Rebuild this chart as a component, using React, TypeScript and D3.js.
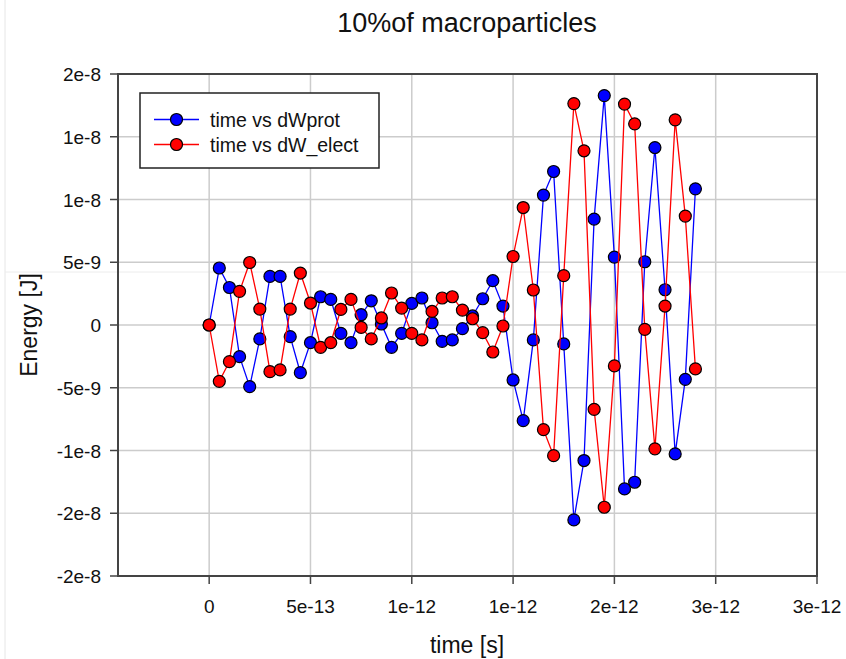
import React from "react";
import * as d3 from "d3";

// time in picoseconds
const timePs = [
  0, 0.05, 0.1, 0.15, 0.2, 0.25, 0.3, 0.35, 0.4, 0.45,
  0.5, 0.55, 0.6, 0.65, 0.7, 0.75, 0.8, 0.85, 0.9, 0.95,
  1.0, 1.05, 1.1, 1.15, 1.2, 1.25, 1.3, 1.35, 1.4, 1.45,
  1.5, 1.55, 1.6, 1.65, 1.7, 1.75, 1.8, 1.85, 1.9, 1.95,
  2.0, 2.05, 2.1, 2.15, 2.2, 2.25, 2.3, 2.35, 2.4,
];

// energies in nJ
const dWprot = [
  0, 4.54, 2.99, -2.52, -4.91, -1.11, 3.87, 3.87, -0.93, -3.8,
  -1.41, 2.25, 2.04, -0.67, -1.41, 0.82, 1.93, 0.08, -1.78, -0.67,
  1.72, 2.15, 0.18, -1.3, -1.19, -0.29, 0.72, 2.09, 3.53, 1.51,
  -4.38, -7.62, -1.19, 10.35, 12.23, -1.51, -15.53, -10.8, 8.44, 18.28,
  5.41, -13.06, -12.53, 5.04, 14.14, 2.81, -10.27, -4.33, 10.85,
];

const dWelect = [
  0, -4.49, -2.92, 2.68, 4.98, 1.27, -3.72, -3.58, 1.27, 4.14,
  1.75, -1.78, -1.41, 1.24, 2.04, -0.19, -1.11, 0.56, 2.55, 1.35,
  -0.67, -1.19, 1.08, 2.15, 2.25, 1.19, 0.5, -0.61, -2.15, -0.08,
  5.46, 9.36, 2.79, -8.34, -10.41, 3.93, 17.64, 13.88, -6.72, -14.52,
  -3.26, 17.6, 16.03, -0.35, -9.87, 1.51, 16.35, 8.68, -3.5,
];

const xTicks = [0, 5e-13, 1e-12, 1.5e-12, 2e-12, 2.5e-12, 3e-12];
const xTickLabels = ["0", "5e-13", "1e-12", "1e-12", "2e-12", "3e-12", "3e-12"];
const yTicks = [-2e-8, -1.5e-8, -1e-8, -5e-9, 0, 5e-9, 1e-8, 1.5e-8, 2e-8];
const yTickLabels = ["-2e-8", "-2e-8", "-1e-8", "-5e-9", "0", "5e-9", "1e-8", "1e-8", "2e-8"];

const seriesNames = ["time vs dWprot", "time vs dW_elect"];
const seriesColors = ["#0000ff", "#ff0000"];

const FONT = "'Liberation Sans', Arial, Helvetica, sans-serif";

export default function App() {
  const W = 846, H = 659;
  const left = 118, right = 817, top = 74, bottom = 576;
  const x = d3.scaleLinear().domain([-4.5e-13, 3e-12]).range([left, right]);
  const y = d3.scaleLinear().domain([-2e-8, 2e-8]).range([bottom, top]);

  const series = [dWprot, dWelect].map((vals) =>
    vals.map((v, i) => ({ t: timePs[i] * 1e-12, e: v * 1e-9 }))
  );
  const line = d3
    .line<{ t: number; e: number }>()
    .x((d) => x(d.t))
    .y((d) => y(d.e));

  return (
    <svg
      width={W}
      height={H}
      style={{ position: "absolute", left: 0, top: 0, background: "#fff" }}
      fontFamily={FONT}
    >
      <rect x={0} y={0} width={W} height={H} fill="#fff" />
      {/* faint page artifacts */}
      <line x1={5} x2={5} y1={0} y2={H} stroke="#e6e6e6" strokeWidth={1} />
      <line x1={5} x2={W} y1={272} y2={272} stroke="#ececec" strokeWidth={1} />

      {/* grid */}
      {xTicks.map((t, i) => (
        <line key={"gx" + i} x1={x(t)} x2={x(t)} y1={top} y2={bottom} stroke="#cccccc" strokeWidth={1.5} />
      ))}
      {yTicks.map((t, i) => (
        <line key={"gy" + i} x1={left} x2={right} y1={y(t)} y2={y(t)} stroke="#cccccc" strokeWidth={1.5} />
      ))}

      {/* frame */}
      <rect x={left} y={top} width={right - left} height={bottom - top} fill="none" stroke="#444" strokeWidth={2} />

      {/* ticks */}
      {xTicks.map((t, i) => (
        <g key={"tx" + i}>
          <line x1={x(t)} x2={x(t)} y1={bottom} y2={bottom + 8} stroke="#444" strokeWidth={1.5} />
          <text x={x(t)} y={613} fontSize={19} textAnchor="middle" fill="#111">
            {xTickLabels[i]}
          </text>
        </g>
      ))}
      {yTicks.map((t, i) => (
        <g key={"ty" + i}>
          <line x1={left - 8} x2={left} y1={y(t)} y2={y(t)} stroke="#444" strokeWidth={1.5} />
          <text x={101} y={y(t) + 7} fontSize={19} textAnchor="end" fill="#111">
            {yTickLabels[i]}
          </text>
        </g>
      ))}

      {/* axis titles */}
      <text x={467} y={32} fontSize={27} textAnchor="middle" fill="#111">
        10%of macroparticles
      </text>
      <text x={467} y={653} fontSize={23} textAnchor="middle" fill="#111">
        time [s]
      </text>
      <text
        transform={`translate(37,${(top + bottom) / 2}) rotate(-90)`}
        fontSize={23}
        textAnchor="middle"
        fill="#111"
      >
        Energy [J]
      </text>

      {/* series */}
      {series.map((s, k) => (
        <g key={"s" + k}>
          <path d={line(s) || ""} fill="none" stroke={seriesColors[k]} strokeWidth={1.3} />
          {s.map((d, i) => (
            <circle key={i} cx={x(d.t)} cy={y(d.e)} r={6} fill={seriesColors[k]} stroke="#000" strokeWidth={1.2} />
          ))}
        </g>
      ))}

      {/* legend */}
      <rect x={140} y={93} width={239} height={75} fill="#fff" stroke="#222" strokeWidth={1.5} />
      {seriesNames.map((n, k) => {
        const ly = 119.5 + k * 25;
        return (
          <g key={"l" + k}>
            <line x1={154} x2={199} y1={ly} y2={ly} stroke={seriesColors[k]} strokeWidth={1.3} />
            <circle cx={176.5} cy={ly} r={6} fill={seriesColors[k]} stroke="#000" strokeWidth={1.2} />
            <text x={210} y={ly + 7} fontSize={19.5} fill="#111">
              {n}
            </text>
          </g>
        );
      })}
    </svg>
  );
}
